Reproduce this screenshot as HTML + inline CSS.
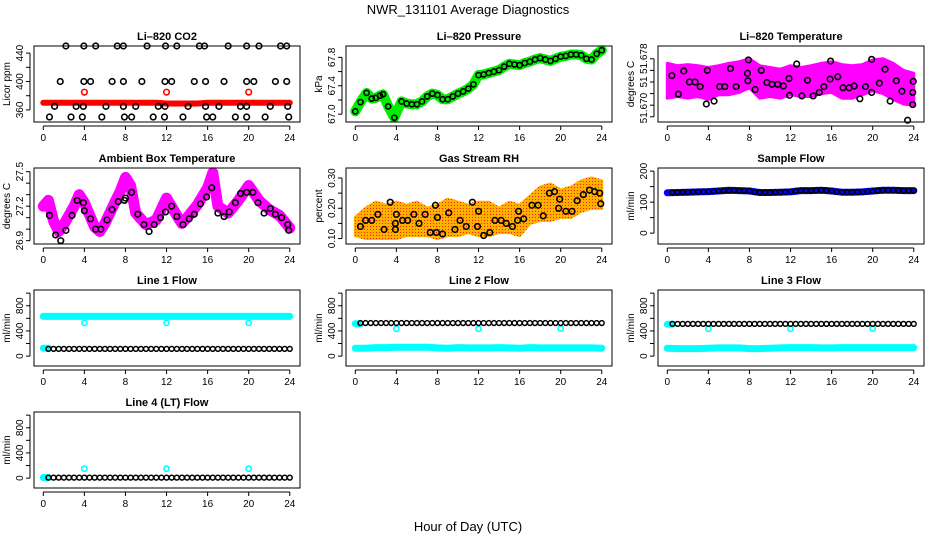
<!DOCTYPE html>
<html><head><meta charset="utf-8"><title>NWR_131101 Average Diagnostics</title>
<style>
html,body{margin:0;padding:0;background:#fff;}
svg{display:block;font-family:"Liberation Sans",Arial,sans-serif;}
</style></head>
<body>
<svg id="chart" width="936" height="540" viewBox="0 0 936 540">
<defs>
<pattern id="rhpat" width="3" height="3" patternUnits="userSpaceOnUse"><rect width="3" height="3" fill="#ffb000"/><rect x="1" y="1" width="1" height="1" fill="#ff2000"/></pattern>
</defs>
<rect width="936" height="540" fill="#fff"/>
<text x="468" y="14" text-anchor="middle" font-size="13">NWR_131101  Average Diagnostics</text>
<text x="468" y="531" text-anchor="middle" font-size="13">Hour of Day (UTC)</text>
</svg>
<script>
// ---------- data ----------
const hourTicks=[0,4,8,12,16,20,24];
const hourly=[0,1,2,3,4,5,6,7,8,9,10,11,12,13,14,15,16,17,18,19,20,21,22,23,24];
const halfHours=[0.5,1,1.5,2,2.5,3,3.5,4,4.5,5,5.5,6,6.5,7,7.5,8,8.5,9,9.5,10,10.5,11,11.5,12,12.5,13,13.5,14,14.5,15,15.5,16,16.5,17,17.5,18,18.5,19,19.5,20,20.5,21,21.5,22,22.5,23,23.5,24];
const calHours=[4,12,20];

// CO2
const co2RedValues=[370,370,370,370,370,370,370,370,370,370,370,370,369,369,369,369,370,370,370,370,370,370,370,370,370];
const co2RedOutliers=[385,385,385];
const co2BlackHours=[2.2,3.95,5.1,7.2,7.8,10.1,11.9,13.0,15.2,15.7,18.0,19.8,21.0,23.1,23.7,
 1.65,3.95,4.6,6.7,7.8,9.6,11.85,12.5,14.7,15.8,17.6,19.8,20.5,22.6,23.7,
 1.1,3.2,3.9,6.1,7.8,9.0,11.2,11.85,14.1,15.8,17.1,19.2,19.8,22.1,23.8,
 0.6,2.7,3.8,5.7,7.9,8.6,10.7,11.8,13.6,15.9,16.5,18.7,19.8,21.6,23.9];
const co2BlackValues=[450,450,450,450,450,450,450,450,450,450,450,450,450,450,450,
 400,400,400,400,400,400,400,400,400,400,400,400,400,400,400,
 365,365,365,365,365,365,365,365,365,365,365,365,365,365,365,
 350,350,350,350,350,350,350,350,350,350,350,350,350,350,350];

// Pressure
const pressHours=[0,0.5,1.1,1.6,2,2.4,2.7,3.2,3.8,4.5,5,5.5,6,6.5,7,7.5,8,8.5,9,9.5,10,10.5,11,11.5,12,12.5,13,13.5,14,14.5,15,15.5,16,16.5,17,17.5,18,18.5,19,19.5,20,20.5,21,21.5,22,22.5,23,23.5,24];
const pressValues=[67.04,67.17,67.30,67.22,67.23,67.26,67.28,67.11,66.95,67.18,67.15,67.14,67.14,67.18,67.25,67.29,67.27,67.21,67.21,67.25,67.29,67.32,67.36,67.42,67.55,67.56,67.58,67.60,67.62,67.67,67.71,67.70,67.69,67.72,67.74,67.77,67.79,67.77,67.75,67.78,67.81,67.82,67.84,67.84,67.83,67.78,67.77,67.85,67.90];

// Li-820 temperature
const tempHi=[51.6772,51.6768,51.6770,51.6768,51.6765,51.6768,51.6772,51.6775,51.6780,51.6768,51.6765,51.6762,51.6768,51.6765,51.6768,51.6772,51.6775,51.6770,51.6768,51.6770,51.6778,51.6780,51.6772,51.6760,51.6755];
const tempLo=[51.6712,51.6715,51.6712,51.6715,51.6710,51.6718,51.6718,51.6722,51.6730,51.6712,51.6715,51.6712,51.6718,51.6715,51.6715,51.6720,51.6722,51.6712,51.6712,51.6718,51.6725,51.6720,51.6710,51.6702,51.6700];
const tempBlackHours=[0.45,1.08,1.6,2.15,2.7,3.2,3.8,3.9,4.55,5.1,5.6,6.15,6.7,7.8,7.85,7.9,8.55,9.15,9.7,10.2,10.75,11.3,11.85,11.9,12.6,13.1,13.65,14.2,14.8,15.25,15.85,15.9,16.6,17.1,17.7,18.2,18.75,19.3,19.9,19.9,20.65,21.2,21.7,22.3,22.85,23.4,23.9,23.95,23.9];
const tempBlackValues=[51.6751,51.6719,51.6759,51.6740,51.6740,51.6732,51.6702,51.6760,51.6707,51.6732,51.6732,51.6763,51.6732,51.6755,51.6742,51.6778,51.6727,51.6760,51.6739,51.6736,51.6736,51.6733,51.6746,51.6717,51.6771,51.6716,51.6743,51.6716,51.6722,51.6732,51.6745,51.6776,51.6749,51.6730,51.6730,51.6733,51.6711,51.6732,51.6779,51.6722,51.6738,51.6762,51.6707,51.6742,51.6724,51.6674,51.6701,51.6741,51.6722];

// Ambient box temperature
const ambHours=[0,0.5,1,1.5,2,3,3.5,4,5,5.5,6,7,7.5,8,8.5,9,10,11,12,13,13.5,14,15,16,16.5,17,18,19,20,21,22,23,24];
const ambValues=[27.20,27.25,27.07,26.98,27.04,27.20,27.30,27.23,27.02,26.98,27.05,27.24,27.33,27.45,27.38,27.14,27.04,27.08,27.27,27.12,27.05,27.10,27.21,27.36,27.49,27.20,27.14,27.25,27.38,27.25,27.17,27.12,27.01];
const ambBlackHours=[0.6,1.2,1.7,2.2,2.8,3.3,3.9,4,4.6,5.1,5.6,6.2,6.7,7.3,7.9,8,8.6,9.2,9.8,10.3,10.8,11.4,11.9,12.5,13,13.6,14.2,14.7,15.3,15.9,16.4,17,17.6,18.1,18.7,19.2,19.8,20.4,20.9,21.5,22.1,22.6,23.2,23.8,23.9];
const ambBlackValues=[27.12,26.95,26.90,26.99,27.12,27.25,27.23,27.16,27.09,27.00,27.00,27.08,27.17,27.24,27.25,27.27,27.32,27.13,27.04,26.98,27.04,27.10,27.15,27.20,27.11,27.04,27.09,27.13,27.22,27.28,27.36,27.14,27.11,27.15,27.23,27.31,27.32,27.32,27.23,27.14,27.18,27.13,27.10,27.04,26.99];

// Gas stream RH
const rhHi=[0.17,0.20,0.22,0.21,0.22,0.21,0.22,0.20,0.21,0.23,0.22,0.21,0.22,0.22,0.20,0.22,0.21,0.24,0.27,0.28,0.26,0.27,0.29,0.30,0.29];
const rhLo=[0.11,0.10,0.10,0.10,0.10,0.11,0.11,0.11,0.10,0.11,0.11,0.12,0.11,0.11,0.12,0.12,0.11,0.15,0.16,0.16,0.17,0.17,0.19,0.20,0.20];
const rhBlackHours=[0.5,1,1.6,2.2,2.8,3.4,3.9,3.9,4,4.6,5.1,5.7,6.2,6.8,7.3,7.8,7.9,8,8.5,9.1,9.7,10.2,10.8,11.4,11.9,12,12.5,13.1,13.6,14.2,14.7,15.3,15.8,15.9,16.4,17.2,17.8,18.3,18.9,19.4,19.8,19.9,20.5,21.1,21.6,22.2,22.8,23.3,23.8,23.9];
const rhBlackValues=[0.14,0.16,0.16,0.18,0.13,0.22,0.15,0.13,0.18,0.16,0.16,0.18,0.15,0.18,0.12,0.21,0.12,0.17,0.115,0.185,0.13,0.16,0.14,0.22,0.14,0.19,0.11,0.12,0.16,0.16,0.15,0.14,0.16,0.19,0.165,0.21,0.21,0.175,0.25,0.255,0.20,0.23,0.19,0.19,0.225,0.245,0.26,0.255,0.25,0.215];

// Sample flow
const sampleBlue=[130,131,132,133,134,136,138,137,136,131,131,132,133,137,137,138,136,132,132,133,136,138,138,137,137];
const sampleBlack=[131,131,132,132,133,133,134,134,135,136,137,137,138,137,137,136,133,131,131,131,132,132,133,134,136,137,137,137,138,138,138,136,133,132,132,132,133,133,134,135,137,138,138,138,138,137,137,137];

// Line flows
const line1CyanHigh=[630,630,630,630,630,630,630,630,630,630,630,630,630,630,630,630,630,630,630,630,630,630,630,630,630];
const line1Outliers=[528,528,528];
const line1Black=[115,115,115,115,115,115,115,115,115,115,115,115,115,115,115,115,115,115,115,115,115,115,115,115,115,115,115,115,115,115,115,115,115,115,115,115,115,115,115,115,115,115,115,115,115,115,115,115];
const line1CyanLow=[125,125];
const line2CyanHigh=[515,515];
const line2CyanLow=[125,125,135,135,140,140,140,140,130,125,135,130,130,130,135,130,125,135,130,130,130,130,130,130,125];
const line2Outliers=[434,434,440];
const line2Black=[525,525,525,525,525,525,525,525,525,525,525,525,525,525,525,525,525,525,525,525,525,525,525,525,525,525,525,525,525,525,525,525,525,525,525,525,525,525,525,525,525,525,525,525,525,525,525,525];
const line3CyanHigh=[505,505];
const line3CyanLow=[125,120,120,120,125,130,130,130,120,120,125,130,135,135,135,130,130,135,135,135,135,135,135,135,135];
const line3Outliers=[434,434,440];
const line3Black=[512,512,512,512,512,512,512,512,512,512,512,512,512,512,512,512,512,512,512,512,512,512,512,512,512,512,512,512,512,512,512,512,512,512,512,512,512,512,512,512,512,512,512,512,512,512,512,512];
const line4CyanLow=[10,10];
const line4Outliers=[150,150,150];
const line4Black=[8,8,8,8,8,8,8,8,8,8,8,8,8,8,8,8,8,8,8,8,8,8,8,8,8,8,8,8,8,8,8,8,8,8,8,8,8,8,8,8,8,8,8,8,8,8,8,8];
const firstTwo=[0,0.5];

// ---------- drawing ----------
const NS='http://www.w3.org/2000/svg';
const svg=document.getElementById('chart');
function el(tag,attrs,parent){const e=document.createElementNS(NS,tag);for(const k in attrs)e.setAttribute(k,attrs[k]);(parent||svg).appendChild(e);return e;}

function panel(col,row,slug,title,ylab,dom,ticks,labels){
  const L=34+312*col, T=46+122*row, W=266, H=76;
  const g=el('g',{});
  
  
  const xs=h=>L+9.3+h*10.27;
  const ys=v=>T+H-(v-dom[0])/(dom[1]-dom[0])*H;
  const t=el('text',{x:L+W/2,y:T-6,'text-anchor':'middle','font-size':11,'font-weight':'bold'},g);
  t.textContent=title;
  
  
  const ax=el('g',{stroke:'#000','stroke-width':1},g);
  
  
  el('line',{x1:xs(0),x2:xs(24),y1:T+H+4,y2:T+H+4},ax);
  hourTicks.forEach(h=>{
    el('line',{x1:xs(h),x2:xs(h),y1:T+H+4,y2:T+H+8},ax);
    const tl=el('text',{x:xs(h),y:T+H+19,'text-anchor':'middle','font-size':10,stroke:'none',fill:'#000'},ax);
    tl.textContent=h;
    
    
  });
  const ay=el('g',{stroke:'#000','stroke-width':1},g);
  
  
  el('line',{x1:L-4,x2:L-4,y1:ys(ticks[0]),y2:ys(ticks[ticks.length-1])},ay);
  ticks.forEach(v=>{el('line',{x1:L-8,x2:L-4,y1:ys(v),y2:ys(v)},ay);});
  labels.forEach(([v,s])=>{
    const yl=el('text',{x:0,y:0,'text-anchor':'middle','font-size':10,stroke:'none',fill:'#000',transform:`translate(${L-11},${ys(v)}) rotate(-90)`},ay);
    yl.textContent=s;
    
    
  });
  const yt=el('text',{x:0,y:0,'text-anchor':'middle','font-size':10,transform:`translate(${L-24},${T+H/2}) rotate(-90)`},g);
  yt.textContent=ylab;
  
  
  const plot=el('g',{},g);
  
  
  el('rect',{x:L,y:T,width:W,height:H,fill:'none',stroke:'#000','stroke-width':1},g);
  return {plot,xs,ys};
}
function pts(p,hs,vs){return hs.map((h,i)=>p.xs(h).toFixed(1)+','+p.ys(vs[i]).toFixed(1)).join(' ');}
function thick(p,hs,vs,color,w,name){
  const l=el('polyline',{points:pts(p,hs,vs),fill:'none',stroke:color,'stroke-width':w,'stroke-linecap':'round','stroke-linejoin':'round'},p.plot);
  
  
}
function band(p,hs,lo,hi,fill,name){
  const s=pts(p,hs,hi)+' '+pts(p,hs.slice().reverse(),lo.slice().reverse());
  const b=el('polygon',{points:s,fill:fill,stroke:fill,'stroke-width':3,'stroke-linejoin':'round'},p.plot);
  
  
}
function rings(p,hs,vs,color,r,sw,name){
  const g=el('g',{fill:'none',stroke:color,'stroke-width':sw},p.plot);
  
  
  hs.forEach((h,i)=>{
    const c=el('circle',{cx:p.xs(h),cy:p.ys(vs[i]),r:r},g);
    
    
  });
}

// Row 1
let p=panel(0,0,'co2','Li\u2013820 CO2','Licor ppm',[343,450],[360,380,400,420,440],[[360,'360'],[400,'400'],[440,'440']]);
thick(p,hourly,co2RedValues,'#ff0000',6,'co2-red-series');
rings(p,calHours,co2RedOutliers,'#ff0000',2.8,1.6,'co2-red-outliers');
rings(p,co2BlackHours,co2BlackValues,'#000',2.8,1.6,'co2-black-series');

p=panel(1,0,'pressure','Li\u2013820 Pressure','kPa',[66.89,67.96],[67.0,67.2,67.4,67.6,67.8],[[67.0,'67.0'],[67.4,'67.4'],[67.8,'67.8']]);
thick(p,pressHours,pressValues,'#00ee00',10,'pressure-green-series');
rings(p,pressHours,pressValues,'#000',2.6,1.6,'pressure-black-series');

p=panel(2,0,'li820-temp','Li\u2013820 Temperature','degrees C',[51.6671,51.6802],[51.668,51.670,51.672,51.674,51.676,51.678],[[51.678,'51.678'],[51.674,'51'],[51.6695,'51.670']]);
band(p,hourly,tempLo,tempHi,'#ff00ff','temp-magenta-band');
rings(p,tempBlackHours,tempBlackValues,'#000',2.8,1.6,'temp-black-series');

// Row 2
p=panel(0,1,'ambient-temp','Ambient Box Temperature','degrees C',[26.871,27.532],[26.9,27.0,27.1,27.2,27.3,27.4,27.5],[[26.9,'26.9'],[27.2,'27.2'],[27.5,'27.5']]);
thick(p,ambHours,ambValues,'#ff00ff',11,'ambient-magenta-series');
rings(p,ambBlackHours,ambBlackValues,'#000',2.8,1.6,'ambient-black-series');

p=panel(1,1,'gas-rh','Gas Stream RH','percent',[0.082,0.333],[0.10,0.15,0.20,0.25,0.30],[[0.10,'0.10'],[0.20,'0.20'],[0.30,'0.30']]);
band(p,hourly,rhLo,rhHi,'url(#rhpat)','rh-orange-band');
rings(p,rhBlackHours,rhBlackValues,'#000',2.8,1.6,'rh-black-series');

p=panel(2,1,'sample-flow','Sample Flow','ml/min',[-35,210],[0,50,100,150,200],[[0,'0'],[100,'100'],[200,'200']]);
thick(p,hourly,sampleBlue,'#0000ff',7,'sample-blue-series');
rings(p,halfHours,sampleBlack,'#000',2.4,1.5,'sample-black-series');

// Rows 3-4
const flowDom=[-157,1050], flowTicks=[0,200,400,600,800,1000], flowLabels=[[0,'0'],[400,'400'],[800,'800']];
p=panel(0,2,'line1','Line 1 Flow','ml/min',flowDom,flowTicks,flowLabels);
thick(p,hourly,line1CyanHigh,'#00ffff',7,'line1-cyan-high');
rings(p,calHours,line1Outliers,'#00ffff',2.6,1.6,'line1-cyan-outliers');
thick(p,firstTwo,line1CyanLow,'#00ffff',7,'line1-cyan-low');
rings(p,halfHours,line1Black,'#000',2.4,1.5,'line1-black-series');

p=panel(1,2,'line2','Line 2 Flow','ml/min',flowDom,flowTicks,flowLabels);
thick(p,hourly,line2CyanLow,'#00ffff',7,'line2-cyan-low');
thick(p,firstTwo,line2CyanHigh,'#00ffff',7,'line2-cyan-high');
rings(p,calHours,line2Outliers,'#00ffff',2.6,1.6,'line2-cyan-outliers');
rings(p,halfHours,line2Black,'#000',2.4,1.5,'line2-black-series');

p=panel(2,2,'line3','Line 3 Flow','ml/min',flowDom,flowTicks,flowLabels);
thick(p,hourly,line3CyanLow,'#00ffff',7,'line3-cyan-low');
thick(p,firstTwo,line3CyanHigh,'#00ffff',7,'line3-cyan-high');
rings(p,calHours,line3Outliers,'#00ffff',2.6,1.6,'line3-cyan-outliers');
rings(p,halfHours,line3Black,'#000',2.4,1.5,'line3-black-series');

p=panel(0,3,'line4','Line 4 (LT) Flow','ml/min',flowDom,flowTicks,flowLabels);
thick(p,firstTwo,line4CyanLow,'#00ffff',7,'line4-cyan-low');
rings(p,calHours,line4Outliers,'#00ffff',2.6,1.6,'line4-cyan-outliers');
rings(p,halfHours,line4Black,'#000',2.4,1.5,'line4-black-series');
</script>
</body></html>
